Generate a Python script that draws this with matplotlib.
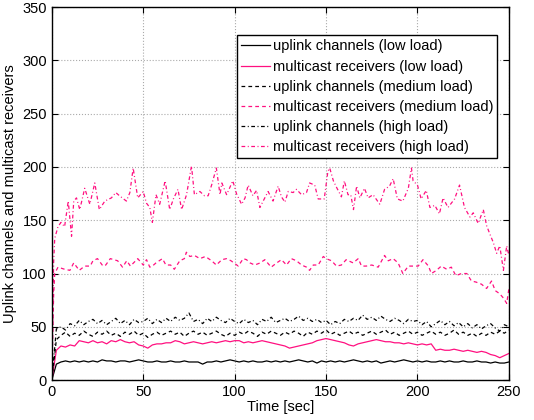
import numpy as np
import matplotlib
matplotlib.use('Agg')
import matplotlib.pyplot as plt

plt.rcParams['font.family'] = ['Liberation Sans', 'DejaVu Sans']

PINK = '#ff1080'

# common time grid for the smoother series (sec)
t_grid = np.arange(0, 251, 2.5)

uplink_low = [0, 15, 17, 18, 17, 18, 17, 18, 17, 18, 17, 19, 18, 18, 17, 18, 18, 17, 18, 19,
              18, 17, 17, 18, 17, 17, 18, 17, 17, 18, 17, 17, 17, 15, 17, 17, 18, 17, 18, 19,
              18, 17, 18, 17, 18, 17, 17, 18, 17, 18, 17, 18, 17, 18, 19, 18, 17, 18, 16, 18,
              17, 18, 17, 18, 17, 18, 19, 18, 17, 18, 17, 18, 16, 17, 18, 17, 18, 19, 18, 17,
              18, 17, 18, 17, 17, 18, 17, 18, 17, 17, 18, 17, 17, 18, 17, 17, 16, 17, 16, 16, 17]

mcast_low = [0, 28, 32, 31, 33, 32, 37, 36, 35, 37, 35, 36, 34, 37, 36, 38, 36, 35, 36, 33,
             32, 30, 33, 34, 34, 35, 35, 37, 36, 34, 35, 36, 35, 34, 35, 36, 35, 36, 37, 36,
             37, 37, 35, 36, 35, 36, 37, 36, 35, 34, 33, 32, 30, 31, 32, 33, 34, 35, 37, 38,
             39, 38, 37, 36, 35, 33, 32, 34, 35, 36, 37, 38, 37, 36, 36, 35, 35, 34, 35, 34,
             33, 34, 33, 34, 28, 29, 28, 28, 29, 28, 27, 28, 27, 26, 27, 26, 24, 23, 21, 23, 25]

uplink_med = [0, 38, 42, 45, 41, 44, 42, 46, 43, 41, 45, 43, 46, 42, 44, 41, 45, 43, 46, 42,
              44, 40, 43, 45, 42, 44, 46, 43, 45, 41, 44, 46, 43, 45, 42, 44, 46, 43, 41, 44,
              42, 45, 43, 46, 44, 41, 45, 43, 46, 44, 42, 45, 43, 46, 44, 41, 45, 43, 46, 44,
              47, 43, 45, 42, 44, 46, 43, 45, 42, 44, 46, 43, 45, 47, 43, 45, 42, 44, 46, 43,
              45, 42, 44, 46, 43, 45, 42, 44, 47, 43, 45, 42, 44, 41, 44, 42, 45, 43, 46, 44, 47]

uplink_high = [0, 48, 50, 47, 53, 51, 56, 52, 55, 57, 53, 56, 52, 55, 58, 53, 56, 52, 57, 54,
               55, 58, 53, 57, 54, 58, 55, 59, 56, 58, 63, 55, 57, 53, 58, 55, 59, 56, 54, 58,
               55, 53, 57, 54, 56, 52, 57, 55, 59, 54, 56, 58, 55, 57, 60, 56, 58, 55, 57, 54,
               56, 52, 55, 53, 57, 55, 58, 56, 61, 57, 59, 56, 60, 57, 55, 58, 56, 53, 57, 55,
               56, 52, 55, 50, 53, 56, 52, 55, 51, 54, 50, 53, 49, 52, 48, 51, 53, 49, 46, 52, 50]

# multicast receivers, medium load (read at irregular times)
t_mc_med = [0, 1, 1.6, 3.4, 7, 9.9, 12, 15, 18, 21, 22.5, 25, 28, 29.5, 32, 34, 36, 38.7, 41, 43,
            47, 50, 51.8, 53.6, 55, 57, 60.5, 62.4, 65, 67, 70, 72.5, 73.6, 75.5, 78, 81, 84,
            87.4, 90, 93, 95.6, 98, 102, 104.7, 106.5, 108.4, 111, 114, 116.5, 120, 123, 125.6,
            128.4, 131, 133.8, 136.6, 139.3, 141, 143, 145.7, 148.5, 150, 153, 155.7, 158.4,
            161, 164.8, 167.6, 169.4, 172, 175, 178.5, 182, 184, 186.7, 189.4, 192, 195, 197.6,
            200.4, 203, 206, 207.6, 210.4, 213, 216, 218.5, 221, 224, 227, 229.5, 232, 235,
            237.8, 240.5, 242.5, 245, 247, 248.8, 250]
mcast_med = [0, 80, 100, 106, 104, 103, 110, 103, 107, 107, 112, 114, 107, 108, 114, 113, 112, 106,
             112, 107, 114, 108, 113, 106, 107, 110, 114, 108, 108, 104, 112, 114, 120, 116, 117,
             114, 116, 112, 108, 113, 114, 112, 107, 114, 113, 110, 108, 110, 113, 106, 110, 113,
             108, 114, 112, 108, 106, 103, 108, 108, 116, 114, 112, 107, 108, 113, 110, 114, 107,
             107, 108, 106, 117, 112, 114, 110, 100, 107, 107, 107, 113, 107, 100, 103, 107, 104,
             106, 98, 100, 100, 93, 92, 90, 86, 93, 84, 81, 77, 72, 86]

# multicast receivers, high load
t_mc_high = [0, 1, 1.6, 3.4, 5, 7, 9, 10.8, 12, 13.5, 15.3, 18, 20.8, 23.5, 26, 29, 32.6, 35, 37,
             40.8, 42.7, 44.5, 47, 50, 51.8, 53.6, 55, 57, 59, 62, 64.5, 66.5, 69, 71, 73.7, 76.4,
             78, 81, 83.5, 85.5, 87.4, 90, 92, 93, 95.6, 99, 101, 103.8, 105.7, 107.4, 110, 112,
             113.8, 114.7, 118.3, 121, 123.8, 125.6, 127.5, 129.3, 132, 133.8, 136.6, 139.3, 141,
             143.8, 145.7, 149, 151, 152, 154, 155.7, 158.4, 160, 162, 163.5, 165, 166.7, 168.5,
             171, 173, 175.7, 179.4, 182, 184.7, 186.7, 189, 192, 195, 196.7, 197.6, 200, 202,
             204.8, 206.8, 209.5, 212, 214, 216.7, 220.3, 223, 225.7, 228.7, 230.5, 233.2, 236,
             237.8, 239.6, 241.5, 243.3, 245, 247, 248.8, 250]
mcast_high = [0, 110, 133, 144, 148, 144, 168, 135, 168, 171, 160, 180, 165, 185, 160, 168, 171,
              176, 173, 168, 176, 199, 171, 177, 166, 162, 148, 174, 165, 187, 160, 170, 179, 160,
              174, 201, 174, 177, 173, 173, 183, 199, 174, 185, 174, 187, 175, 165, 171, 183, 173,
              178, 162, 165, 177, 168, 182, 172, 167, 177, 176, 179, 174, 176, 185, 183, 170, 170,
              196, 199, 187, 181, 172, 187, 174, 174, 160, 182, 171, 180, 171, 174, 165, 179, 182,
              189, 170, 168, 180, 199, 187, 183, 170, 178, 162, 164, 156, 171, 162, 170, 183, 162,
              153, 157, 147, 160, 145, 137, 129, 119, 126, 103, 126, 117]

fig = plt.figure(figsize=(5.34, 4.2), dpi=100)
ax = fig.add_axes([0.097, 0.095, 0.856, 0.888])

lw = 0.9
ax.plot(t_grid, uplink_low, '-', color='k', lw=lw, label='uplink channels (low load)')
ax.plot(t_grid, mcast_low, '-', color=PINK, lw=lw, label='multicast receivers (low load)')
ax.plot(t_grid, uplink_med, '--', color='k', lw=lw, dashes=(3, 2.5), label='uplink channels (medium load)')
ax.plot(t_mc_med, mcast_med, '--', color=PINK, lw=lw, dashes=(3, 2.5), label='multicast receivers (medium load)')
ax.plot(t_grid, uplink_high, '-.', color='k', lw=lw, dashes=(3, 2, 0.8, 2), label='uplink channels (high load)')
ax.plot(t_mc_high, mcast_high, '-.', color=PINK, lw=lw, dashes=(3, 2, 0.8, 2), label='multicast receivers (high load)')

ax.set_xlim(0, 250)
ax.set_ylim(0, 350)
ax.set_xticks(range(0, 251, 50))
ax.set_yticks(range(0, 351, 50))
ax.grid(True, linestyle=':', color='#aaaaaa', lw=0.8)
ax.tick_params(direction='in', top=True, right=True, length=4, labelsize=10.5)
for s in ax.spines.values():
    s.set_linewidth(1.0)
ax.set_xlabel('Time [sec]', fontsize=10.5, labelpad=1)
ax.set_ylabel('Uplink channels and multicast receivers', fontsize=10.5, labelpad=4)

leg = ax.legend(loc='upper right', bbox_to_anchor=(0.975, 0.925), fontsize=10.5,
                fancybox=False, framealpha=1, edgecolor='k', borderpad=0.3,
                handlelength=2.0, handletextpad=0.15, labelspacing=0.42, borderaxespad=0)
leg.get_frame().set_linewidth(1.0)

fig.savefig('out.png', dpi=100)
